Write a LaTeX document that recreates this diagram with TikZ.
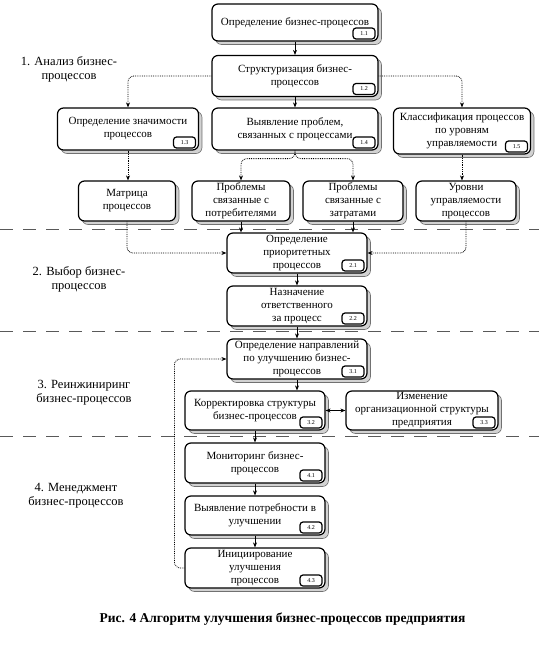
\documentclass[tikz,border=0pt]{standalone}
\usepackage{fontspec}
\setmainfont{Liberation Serif}
\usetikzlibrary{calc,arrows.meta,shadows}

\begin{document}
\begin{tikzpicture}[x=1pt, y=-1pt, >={Stealth[length=5pt,width=4pt]}, line join=round]
\tikzset{
  box/.style={draw, line width=1.2pt, rounded corners=6pt, fill=white, align=center, inner sep=1pt,
    font=\fontsize{11}{13}\selectfont,
    drop shadow={shadow xshift=3.5pt, shadow yshift=-3.5pt, fill=gray!70, draw=black, line width=0.6pt}},
  tag/.style={draw, line width=1.2pt, rounded corners=3pt, fill=white, inner sep=0pt,
    minimum width=22pt, minimum height=11pt, font=\fontsize{6}{6}\selectfont},
  go/.style={->, line width=0.8pt},
  link/.style={->, densely dotted, line width=0.8pt, rounded corners=6pt},
  sep/.style={dash pattern=on 13pt off 10pt, line width=1pt, black!65},
  lab/.style={align=center, font=\fontsize{12.5}{14}\selectfont},
}
\useasboundingbox (0,0) rectangle (539,648);

% stage borders
\draw[sep] (0,229) -- (539,229);
\draw[sep] (0,331) -- (539,331);
\draw[sep] (0,436) -- (539,436);

% stage names
\node[lab] (l1) at (69,69)    {1. Анализ бизнес-\\процессов};
\node[lab] (l2) at (79,279)   {2. Выбор бизнес-\\процессов};
\node[lab] (l3) at (84,393)   {3. Реинжиниринг\\бизнес-процессов};
\node[lab] (l4) at (76,496)   {4. Менеджмент\\бизнес-процессов};

% stage 1
\node[box, minimum width=166pt, minimum height=37pt] (b11) at (295,22.5) {Определение бизнес-процессов};
\node[box, minimum width=166pt, minimum height=41pt] (b12) at (295,76) {Структуризация бизнес-\\процессов};
\node[box, minimum width=141pt, minimum height=42pt] (b13) at (128,129) {Определение значимости\\процессов};
\node[box, minimum width=166pt, minimum height=42pt] (b14) at (295,129) {Выявление проблем,\\связанных с процессами};
\node[box, minimum width=137pt, minimum height=46pt] (b15) at (462,131) {Классификация процессов\\по уровням\\управляемости};

\node[box, minimum width=97pt, minimum height=40pt]  (r1) at (127,201) {Матрица\\процессов};
\node[box, minimum width=98pt, minimum height=40pt]  (r2) at (241,201) {Проблемы\\связанные с\\потребителями};
\node[box, minimum width=100pt, minimum height=40pt] (r3) at (353,201) {Проблемы\\связанные с\\затратами};
\node[box, minimum width=100pt, minimum height=40pt] (r4) at (466,201) {Уровни\\управляемости\\процессов};

% stage 2
\node[box, minimum width=140pt, minimum height=40pt] (b21) at (297,253) {Определение\\приоритетных\\процессов};
\node[box, minimum width=140pt, minimum height=40pt] (b22) at (297,306) {Назначение\\ответственного\\за процесс};

% stage 3
\node[box, minimum width=140pt, minimum height=40pt] (b31) at (297,359) {Определение направлений\\по улучшению бизнес-\\процессов};
\node[box, minimum width=140pt, minimum height=39pt] (b32) at (255,410.5) {Корректировка структуры\\бизнес-процессов};
\node[box, minimum width=152pt, minimum height=39pt] (b33) at (422,410.5) {Изменение\\организационной структуры\\предприятия};

% stage 4
\node[box, minimum width=140pt, minimum height=40pt] (b41) at (255,463) {Мониторинг бизнес-\\процессов};
\node[box, minimum width=140pt, minimum height=39pt] (b42) at (255,515.5) {Выявление потребности в\\улучшении};
\node[box, minimum width=140pt, minimum height=40pt] (b43) at (255,568) {Инициирование\\улучшения\\процессов};

% step numbers
\foreach \n/\t in {b11/1.1, b12/1.2, b13/1.3, b14/1.4, b15/1.5, b21/2.1, b22/2.2,
                   b31/3.1, b32/3.2, b33/3.3, b41/4.1, b42/4.2, b43/4.3}
  \node[tag, anchor=south east] (t\n) at ([shift={(-3pt,2pt)}]\n.south east) {\t};

% connectors
\draw[go] (b11) -- (b12);
\draw[go] (b12) -- (b14);
\draw[link] (b12.west) -| (b13.north);
\draw[link] (b12.east) -| (b15.north);
\draw[link] (b13.south) -- (b13.south |- r1.north);
\coordinate (fk) at ($(b14.south)+(0,8)$);
\draw[link] (b14.south) -- (fk) -| (r2.north);
\draw[link] (b14.south) -- (fk) -| (r3.north);
\draw[link] (b15.south) -- (b15.south |- r4.north);

\draw[link] (r1.south) |- (b21.west);
\draw[link] (r4.south) |- (b21.east);
\draw[go] (r2.south) -- (r2.south |- b21.north);
\draw[go] (r3.south) -- (r3.south |- b21.north);
\draw[go] (b21) -- (b22);
\draw[go] (b22) -- (b31);

\draw[go] (b31.south) -- (b31.south |- b32.north);
\draw[<->, line width=0.8pt] (b32.east) -- (b33.west);
\draw[go] (b32) -- (b41);
\draw[go] (b41) -- (b42);
\draw[go] (b42) -- (b43);
\draw[link] (b43.west) -- ++(-10pt,0pt) |- (b31.west);

% caption
\node[font=\bfseries\fontsize{13.5}{15}\selectfont] (cap) at (282.5,619) {Рис. 4 Алгоритм улучшения бизнес-процессов предприятия};
\end{tikzpicture}
\end{document}
